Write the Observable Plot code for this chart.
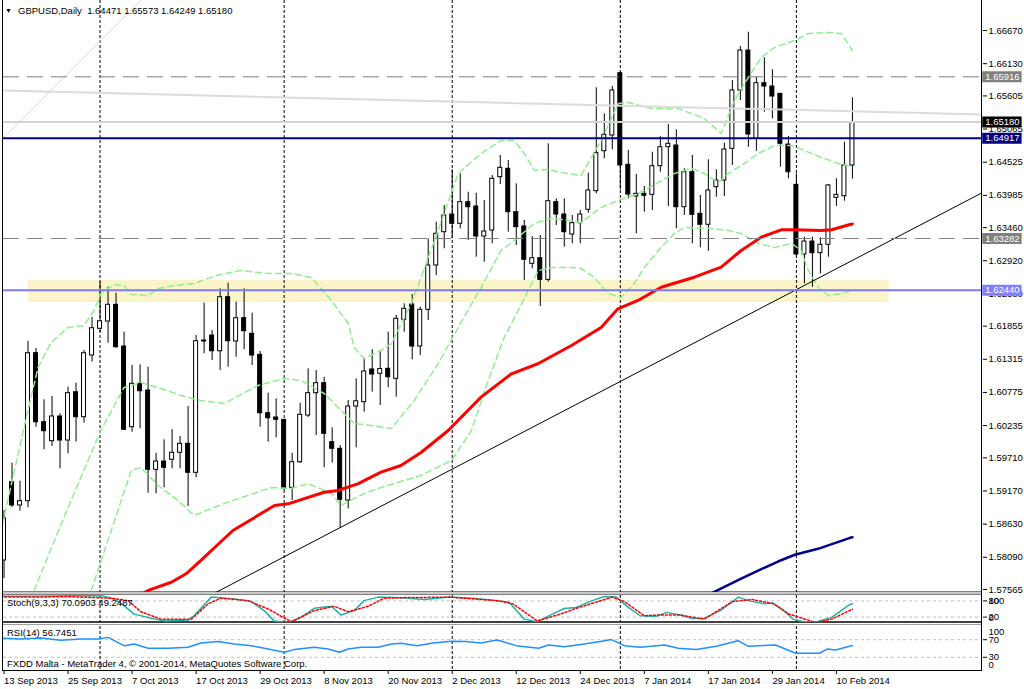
<!DOCTYPE html>
<html><head><meta charset="utf-8">
<script src="https://cdn.jsdelivr.net/npm/d3@7"></script>
<script src="https://cdn.jsdelivr.net/npm/@observablehq/plot@0.6"></script>
<style>
body{margin:0;background:#fff;}
#wrap{position:relative;width:1024px;height:689px;overflow:hidden;font-family:"Liberation Sans",Arial,sans-serif;background:#fff;}
.abs{position:absolute;left:0;}
.lbl{position:absolute;font-size:10px;color:#000;white-space:pre;line-height:12px;font-family:"Liberation Sans",Arial,sans-serif;}
.bar{position:absolute;}
</style></head><body><div id="wrap"></div>
<script>
// ---------------- DATA ----------------
const opens = [1.58038,1.59313,1.58934,1.59004,1.61414,1.60290,1.59981,1.60383,1.59992,1.60779,
1.60372,1.61376,1.61812,1.61930,1.62203,1.61523,1.60209,1.60916,1.60807,1.59515,
1.59650,1.59678,1.59792,1.59938,1.59466,1.61621,1.61702,1.61446,1.62326,1.61605,
1.61984,1.61730,1.61388,1.60437,1.60367,1.60329,1.59221,1.59639,1.60399,1.60763,
1.60926,1.59965,1.59857,1.59015,1.60546,1.60616,1.61149,1.61079,1.61160,1.60997,
1.61958,1.62207,1.61523,1.62121,1.62843,1.63385,1.63673,1.63522,1.63874,1.63803,
1.63315,1.63413,1.64281,1.64418,1.63711,1.63478,1.62870,1.62962,1.62609,1.63874,
1.63673,1.63348,1.63532,1.63750,1.64053,1.64704,1.64960,1.65975,1.64483,1.63967,
1.64010,1.63994,1.64460,1.64769,1.64797,1.63792,1.64362,1.63685,1.63506,1.64118,
1.64227,1.64743,1.65693,1.66344,1.64906,1.65812,1.65758,1.65639,1.64813,1.64157,
1.63022,1.63233,1.63043,1.63180,1.63945,1.63971,1.64471];
const highs = [1.58852,1.59623,1.59329,1.61610,1.61491,1.60655,1.60709,1.60427,1.60860,1.60926,
1.61458,1.62000,1.62571,1.62489,1.62392,1.61756,1.61214,1.61225,1.61186,1.59785,
1.60003,1.60167,1.60057,1.60546,1.61702,1.62229,1.61784,1.62463,1.62554,1.62245,
1.62463,1.62066,1.61442,1.60763,1.60671,1.60334,1.59785,1.60600,1.61160,1.61132,
1.61023,1.60199,1.59911,1.60644,1.60997,1.61323,1.61470,1.61458,1.61756,1.62028,
1.62219,1.62370,1.62164,1.63278,1.63548,1.63820,1.64401,1.64336,1.64036,1.64020,
1.63901,1.64308,1.64634,1.64553,1.64173,1.63576,1.63315,1.63331,1.64825,1.63929,
1.63929,1.63657,1.63739,1.64346,1.65737,1.65313,1.65758,1.65991,1.64716,1.64325,
1.64129,1.64688,1.64944,1.65139,1.65053,1.64418,1.64634,1.63983,1.64564,1.64401,
1.64835,1.65856,1.66409,1.66642,1.65909,1.66226,1.66030,1.65639,1.64944,1.64336,
1.63304,1.63304,1.63294,1.64162,1.64255,1.64851,1.65573];
const lows = [1.57744,1.58901,1.58841,1.58896,1.60209,1.59841,1.59895,1.59531,1.59776,1.59965,
1.60274,1.61268,1.61751,1.61577,1.61491,1.60155,1.60127,1.60183,1.59134,1.59124,
1.59221,1.59531,1.59531,1.58917,1.59385,1.61404,1.61295,1.61132,1.61186,1.61349,
1.61470,1.61214,1.60209,1.59965,1.60036,1.59178,1.59015,1.59618,1.60367,1.60074,
1.59548,1.59623,1.58559,1.58879,1.59873,1.60453,1.60779,1.60562,1.60851,1.60698,
1.61756,1.61307,1.61376,1.61947,1.62680,1.63115,1.63278,1.63440,1.63250,1.62978,
1.62896,1.63196,1.64162,1.63385,1.63168,1.62598,1.62789,1.62175,1.62571,1.63494,
1.63141,1.63196,1.63196,1.63694,1.64010,1.64581,1.64727,1.64076,1.63929,1.63359,
1.63711,1.63739,1.64362,1.63803,1.63440,1.63657,1.63196,1.63131,1.63075,1.63955,
1.63967,1.64472,1.65530,1.64769,1.64704,1.65339,1.65232,1.64444,1.64255,1.62989,
1.62545,1.62489,1.62707,1.62978,1.63803,1.63890,1.64249];
const closes = [1.58722,1.58934,1.59004,1.61414,1.60290,1.60144,1.60383,1.59992,1.60763,1.60372,
1.61414,1.61821,1.61935,1.62203,1.61512,1.60167,1.60916,1.60795,1.59515,1.59650,
1.59548,1.59792,1.59938,1.59466,1.61610,1.61605,1.61446,1.62326,1.61610,1.61984,
1.61773,1.61376,1.60437,1.60355,1.60329,1.59206,1.59639,1.60411,1.60763,1.60926,
1.60101,1.59857,1.59026,1.60546,1.60632,1.61116,1.61067,1.61157,1.61023,1.61975,
1.62137,1.61523,1.62121,1.62843,1.63359,1.63657,1.63522,1.63874,1.63792,1.63315,
1.63396,1.64255,1.64434,1.63711,1.63467,1.62936,1.62962,1.62609,1.63890,1.63673,
1.63385,1.63532,1.63673,1.64064,1.64672,1.64971,1.65693,1.64472,1.63999,1.64010,
1.63978,1.64460,1.64769,1.64825,1.63792,1.64362,1.63668,1.63506,1.64064,1.64227,
1.64732,1.65693,1.66344,1.64976,1.65812,1.65758,1.65595,1.64825,1.64362,1.63022,
1.63233,1.63043,1.63180,1.64146,1.63994,1.64472,1.65180];

// moving averages [bar index, price]
const maRed = [[17,1.5748],[18.2,1.57560],[20.9,1.57684],[22.75,1.57821],[24.6,1.58038],[28.6,1.58526],[33.8,1.58934],[35.5,1.58961],[40,1.59150],[41.7,1.59178],[44.2,1.59287],[47.1,1.59476],[49.6,1.59585],[52.1,1.59797],[55.5,1.60155],[59.6,1.60698],[63.4,1.61079],[66.7,1.61242],[70.9,1.61540],[74.6,1.61833],[76.7,1.62137],[79.2,1.62273],[82.1,1.62489],[86.25,1.62652],[89.6,1.62815],[92.1,1.63087],[94.6,1.63304],[97.1,1.63424],[98.75,1.63424],[102.1,1.63413],[103.4,1.63424],[105.7,1.63511],[106,1.63520]];
const maNavy = [[88.4,1.57505],[92.1,1.57744],[96.7,1.58021],[98.8,1.58131],[101.7,1.58228],[105.7,1.58407],[106,1.58415]];

// bollinger bands [bar index, price]
const bbUpper = [[-0.4,1.58477],[0,1.58738],[2.5,1.60204],[4.25,1.61181],[5.9,1.61589],[8,1.61833],[10,1.61865],[11.25,1.62110],[12.1,1.62387],[13.75,1.62533],[15,1.62517],[15.9,1.62370],[18,1.62354],[19.25,1.62468],[21.25,1.62517],[23.75,1.62549],[26.5,1.62680],[29.6,1.62761],[33,1.62712],[35.9,1.62712],[38.4,1.62647],[40.9,1.62273],[43,1.61898],[43.75,1.61507],[45,1.61328],[47.1,1.61458],[48.4,1.61572],[50.9,1.62224],[54.25,1.63413],[56.75,1.64341],[59.6,1.64667],[62.1,1.64879],[63.75,1.64879],[65,1.64667],[66.25,1.64390],[68,1.64406],[69.6,1.64357],[72.1,1.64309],[74.6,1.64879],[76.75,1.65481],[78,1.65498],[80.9,1.65400],[84.25,1.65400],[87.5,1.65237],[89.6,1.64993],[91.25,1.65530],[93,1.65905],[94.6,1.66231],[96.25,1.66393],[98.75,1.66507],[100.5,1.66621],[103,1.66638],[104.6,1.66621],[105.6,1.66426],[106,1.66345]];
const bbMiddle = [[3.75,1.57549],[8,1.58901],[12.1,1.60155],[15,1.60856],[17.1,1.60937],[19.6,1.60839],[22.1,1.60725],[24.6,1.60644],[27.5,1.60595],[31.75,1.60888],[35,1.61002],[37.1,1.60970],[40,1.60758],[41.75,1.60530],[43.75,1.60269],[45.9,1.60237],[48.4,1.60188],[51.25,1.60644],[54.25,1.61246],[56.75,1.61833],[59.6,1.62484],[62.1,1.63087],[63.75,1.63250],[66.25,1.63527],[68.4,1.63608],[70.9,1.63576],[72.1,1.63543],[74.6,1.63787],[76.75,1.63901],[79.25,1.64015],[81.75,1.64195],[83.75,1.64341],[85.9,1.64423],[87.5,1.64341],[89.25,1.64195],[90.5,1.64341],[92.5,1.64504],[94.25,1.64667],[96.25,1.64797],[98.4,1.64797],[100,1.64716],[102.1,1.64602],[104.25,1.64504],[106,1.64455]];
const bbLower = [[10.9,1.57549],[15.9,1.59504],[17.1,1.59553],[19.25,1.59259],[21.75,1.59015],[23.75,1.58771],[27.5,1.58966],[33.4,1.59227],[35.9,1.59210],[38,1.59292],[40.9,1.59129],[42.1,1.58934],[45,1.59129],[47.1,1.59227],[52.1,1.59422],[55.9,1.59667],[58.4,1.60155],[60.5,1.60970],[62.5,1.61670],[64.25,1.62110],[65.5,1.62435],[66.75,1.62761],[68.4,1.62810],[70.9,1.62810],[72.1,1.62794],[73.75,1.62647],[75.5,1.62387],[77.1,1.62321],[78.75,1.62549],[80,1.62810],[82.1,1.63136],[83.75,1.63364],[85,1.63462],[88.4,1.63445],[90.5,1.63413],[92.1,1.63364],[94.25,1.63201],[96.25,1.63136],[98.4,1.63201],[99.6,1.63087],[100.5,1.62761],[101.75,1.62484],[103,1.62354],[104.6,1.62387],[106,1.62435]];

// drawn objects
const trendLine = [[24,1.57350],[123,1.64082]];
const greySlope = [[-0.4,1.65693],[122.5,1.65302]];
const greyDiag = [[0,1.64928],[17.1,1.67159],[18,1.6731]];
const zones = [{i1:3, i2:110.6, p1:1.62240, p2:1.62598}];
const dashedLevels = [1.65916, 1.63282];
const bidPrice = 1.65180;
const navyLevel = 1.64917;
const slateLevel = 1.62440;
const tags = [
  {p:1.65916, bg:"#808080"},
  {p:1.65180, bg:"#000000"},
  {p:1.64917, bg:"#000080"},
  {p:1.63282, bg:"#808080"},
  {p:1.62440, bg:"#8080ff"}
];
const priceTicks = [1.66670,1.66130,1.65605,1.65065,1.64525,1.63985,1.63460,1.62920,1.62380,1.61855,1.61315,1.60775,1.60235,1.59710,1.59170,1.58630,1.58090,1.57565];

// stochastic & rsi [bar index, value]
const stochMain = [[-0.4,97.5],[3.75,97.5],[12.1,100],[13.75,87.5],[15,62.5],[16.25,31],[18.4,16],[20,6],[23,9],[23.75,25],[25.9,94],[28.75,87.5],[30.9,77.5],[32.5,44],[33.75,6],[35.5,0],[37.1,19],[38.75,52.5],[40.9,60],[42.1,27.5],[43.75,44],[45,81],[46.75,94],[49.6,92],[52.6,85],[55.6,94],[58.6,90],[61.6,81],[63.1,75],[65,12.5],[66.6,2.5],[68.5,31],[70,52],[71.5,56],[73.5,81],[75,96],[76.5,94],[78,56],[79.5,25],[81.5,22.5],[82.75,37.5],[84.5,27.5],[86,15],[87.5,16],[89.5,44],[91.75,94],[93,81],[95,69],[96,72.5],[97.4,44],[98.6,12.5],[99.9,2.5],[101.6,2.5],[103.4,19],[105.6,65],[106,70.09]];
const stochSignal = [[-0.4,94],[3.75,94],[8,96],[13.4,90],[15.5,81],[17.1,40],[19.6,12.5],[23.4,12.5],[25.5,69],[27.1,90],[30.5,81],[33,50],[35.9,2.5],[38.75,44],[41.25,60],[43,40],[45.5,60],[47.5,90],[49.6,92],[55.6,94],[61.6,81],[63.6,69],[66.6,6],[69.5,31],[71.5,52.5],[76,94],[77.5,77.5],[80,25],[81.5,27.5],[84.5,27.5],[87.5,12.5],[91,77.5],[93.5,85],[96.2,69],[98.1,31],[101.4,0],[103.4,12.5],[105.6,44],[106,49.25]];
const stochLevels = [80, 20];
const rsiValues = [[-0.4,73.8],[2.1,71.6],[4.6,73.8],[7.1,68.5],[9.6,71.6],[11.75,71.6],[13,75.3],[15,56.5],[16.25,60.3],[18,50.6],[20.5,50.6],[23,52.8],[24.6,62.6],[26.75,65.7],[28.75,60.3],[30.9,56.5],[33,49],[35,41.4],[36.25,47.5],[38.75,52.8],[40.5,49],[41.9,41.4],[43,49],[44.6,52.8],[46.75,52.8],[48.4,60.3],[49.6,62],[51.6,56.5],[53.6,62.6],[55.9,66.4],[57.6,65.7],[59.6,62.6],[61.6,69.3],[64,56.5],[66.8,50.6],[68,58.1],[70,54.2],[72.5,60.3],[74.5,65.7],[75.9,70.2],[77.5,56.5],[79.5,52.8],[82.5,58.1],[84.25,50.6],[86.5,47.5],[89,55],[91.7,67.8],[93,55],[96.4,58.1],[98.9,39.2],[101.9,39.2],[102.9,49],[103.9,46.7],[106,56.75]];
const rsiLevels = [70, 30];

// time axis
const monthStarts = [12, 35, 56, 77, 99];
const tickIdx = [0,8,16,24,32,40,48,56,64,72,80,88,96,104];
const tickLabels = ["13 Sep 2013","25 Sep 2013","7 Oct 2013","17 Oct 2013","29 Oct 2013","8 Nov 2013","20 Nov 2013","2 Dec 2013","12 Dec 2013","24 Dec 2013","7 Jan 2014","17 Jan 2014","29 Jan 2014","10 Feb 2014"];

// texts
const titleText = "GBPUSD,Daily  1.64471 1.65573 1.64249 1.65180";
const stochText = "Stoch(9,3,3) 70.0903 49.2487";
const rsiText = "RSI(14) 56.7451";
const footerText = "FXDD Malta - MetaTrader 4, \u00a9 2001-2014, MetaQuotes Software Corp.";

// ---------------- BUILD ----------------
const bars = opens.map((o, i) => ({i, o, h: highs[i], l: lows[i], c: closes[i]}));
const labelOf = new Map(tickIdx.map((d, k) => [d, tickLabels[k]]));
const xDomain = [-0.0625, 122.25];
const FONT = "'Liberation Sans', Arial, sans-serif";
const FS = 9.5;
const common = {
  width: 1024, marginLeft: 3, marginRight: 42,
  style: {fontFamily: FONT, fontSize: FS + "px", background: "transparent", color: "#000", overflow: "visible"}
};
const px = d => d[0], py = d => d[1];
const sep = data => Plot.ruleX(data, {stroke: "#000", strokeDasharray: "3,2"});

const wrap = document.getElementById("wrap");
function place(el, top) {
  const d = document.createElement("div");
  d.className = "abs"; d.style.top = top + "px";
  d.appendChild(el); wrap.appendChild(d);
}
function label(text, left, top, size) {
  const d = document.createElement("div");
  d.className = "lbl"; d.textContent = text;
  d.style.left = left + "px"; d.style.top = top + "px";
  if (size) d.style.fontSize = size + "px";
  wrap.appendChild(d);
}
function bar(left, top, w, h, color) {
  const d = document.createElement("div");
  d.className = "bar"; d.style.left = left + "px"; d.style.top = top + "px";
  d.style.width = w + "px"; d.style.height = h + "px"; d.style.background = color;
  wrap.appendChild(d);
}

// panel separators (drawn first, beneath the plots' text)
bar(2, 591, 980, 1, "#808080");
bar(2, 592, 980, 2, "#c8c8c8");
bar(2, 594, 980, 1, "#808080");
bar(2, 621, 980, 2, "#404040");
bar(2, 624, 980, 1, "#a0a0a0");

const mainPlot = Plot.plot({
  ...common, height: 600, marginTop: 0, marginBottom: 8,
  x: {domain: xDomain, axis: null},
  y: {domain: [1.575165, 1.67159]},
  marks: [
    Plot.rect(zones, {x1: "i1", x2: "i2", y1: "p1", y2: "p2", fill: "#fbf4c8"}),
    sep(monthStarts),
    Plot.ruleX(bars, {x: "i", y1: "l", y2: "h", stroke: "#000", clip: true}),
    Plot.rect(bars, {x1: d => d.i - 0.25, x2: d => d.i + 0.25, y1: "o", y2: "c",
      fill: d => d.c >= d.o ? "#ffffff" : "#000000", stroke: "#000", clip: true}),
    Plot.line(bbUpper, {x: px, y: py, stroke: "#90ee90", strokeDasharray: "6,4", clip: true}),
    Plot.line(bbMiddle, {x: px, y: py, stroke: "#90ee90", strokeDasharray: "6,4", clip: true}),
    Plot.line(bbLower, {x: px, y: py, stroke: "#90ee90", strokeDasharray: "6,4", clip: true}),
    Plot.line(maRed, {x: px, y: py, stroke: "#ff0000", strokeWidth: 3, clip: true}),
    Plot.line(maNavy, {x: px, y: py, stroke: "#00008b", strokeWidth: 2.5, clip: true}),
    Plot.line(trendLine, {x: px, y: py, stroke: "#000", strokeWidth: 1, clip: true}),
    Plot.line(greySlope, {x: px, y: py, stroke: "#dcdcdc", strokeWidth: 2, clip: true}),
    Plot.line(greyDiag, {x: px, y: py, stroke: "#d3d3d3", strokeWidth: 1, clip: true}),
    Plot.ruleY(dashedLevels, {stroke: "#808080", strokeDasharray: "16,8"}),
    Plot.ruleY([bidPrice], {stroke: "#d3d3d3", strokeWidth: 2}),
    Plot.ruleY([navyLevel], {stroke: "#000080", strokeWidth: 2}),
    Plot.ruleY([slateLevel], {stroke: "#7b7bf5", strokeWidth: 2}),
    Plot.axisY(priceTicks, {anchor: "right", tickSize: 4, tickPadding: 2, label: null,
      tickFormat: d => d.toFixed(5), fontSize: FS}),
    Plot.ruleY(tags, {y: "p", x1: 122.28, x2: 127.2, stroke: d => d.bg, strokeWidth: 11}),
    Plot.text(tags, {y: "p", x: 122.28, dx: 2.5, text: d => d.p.toFixed(5), textAnchor: "start",
      fill: "#ffffff", fontSize: FS})
  ]
});
place(mainPlot, 0);

const stochPlot = Plot.plot({
  ...common, height: 27, marginTop: 0, marginBottom: 0,
  x: {domain: xDomain, axis: null},
  y: {domain: [0, 100]},
  marks: [
    Plot.ruleY(stochLevels, {stroke: "#c0c0c0", strokeDasharray: "3,3"}),
    sep(monthStarts),
    Plot.line(stochMain, {x: px, y: py, stroke: "#20b2aa", clip: true}),
    Plot.line(stochSignal, {x: px, y: py, stroke: "#ff0000", strokeDasharray: "2,2", clip: true}),
    Plot.axisY(stochLevels, {anchor: "right", tickSize: 4, tickPadding: 2, label: null, fontSize: FS}),
    Plot.axisY([100], {anchor: "right", tickSize: 0, tickPadding: 6, dy: 5, label: null, fontSize: FS}),
    Plot.axisY([0], {anchor: "right", tickSize: 0, tickPadding: 6, dy: -5, label: null, fontSize: FS})
  ]
});
place(stochPlot, 595);

const rsiPlot = Plot.plot({
  ...common, height: 65, marginTop: 2, marginBottom: 19,
  x: {domain: xDomain},
  y: {domain: [0, 100]},
  marks: [
    Plot.ruleY(rsiLevels, {stroke: "#c0c0c0", strokeDasharray: "3,3"}),
    sep(monthStarts),
    Plot.line(rsiValues, {x: px, y: py, stroke: "#1e90ff", clip: true}),
    Plot.axisY(rsiLevels, {anchor: "right", tickSize: 4, tickPadding: 2, label: null, fontSize: FS}),
    Plot.axisY([100], {anchor: "right", tickSize: 0, tickPadding: 6, dy: 5, label: null, fontSize: FS}),
    Plot.axisY([0], {anchor: "right", tickSize: 0, tickPadding: 6, dy: -6, label: null, fontSize: FS}),
    Plot.axisX(tickIdx, {anchor: "bottom", tickSize: 4, tickPadding: 3, label: null,
      tickFormat: d => labelOf.get(d), textAnchor: "start", dx: 0, fontSize: FS})
  ]
});
place(rsiPlot, 624);

// panel borders
bar(2, 0, 1, 670, "#000");
bar(981, 0, 1, 671, "#000");
bar(2, 670, 980, 1, "#000");

// texts
label("\u25BC", 5, 5, 7);
label(titleText, 18, 5, FS);
label(stochText, 7, 597, FS);
label(rsiText, 7, 627, FS);
label(footerText, 7, 658, FS);
</script></body></html>
